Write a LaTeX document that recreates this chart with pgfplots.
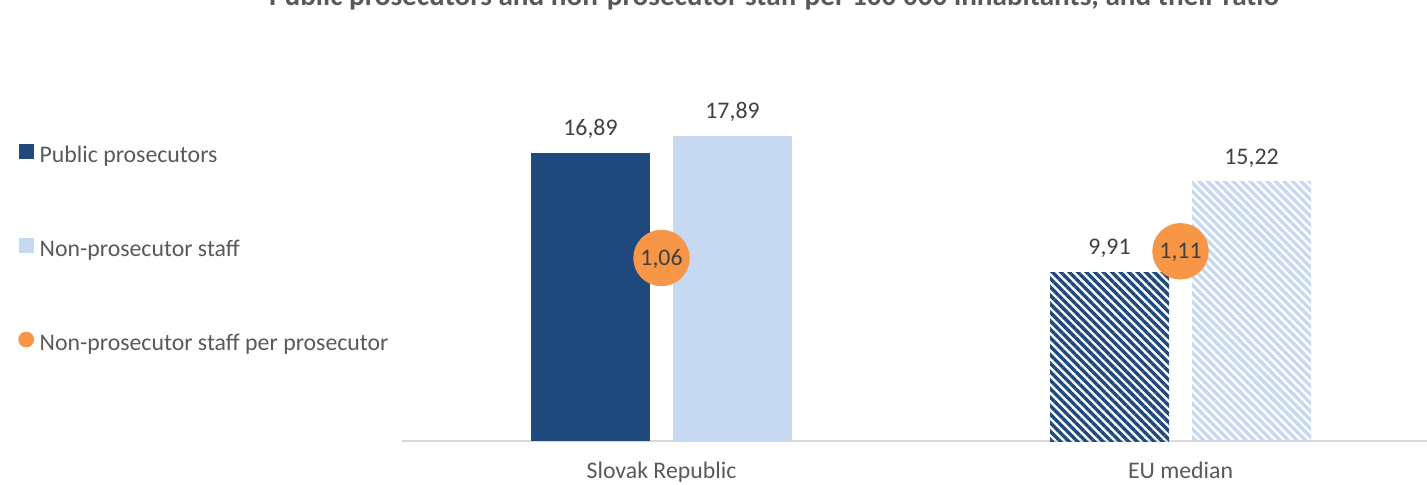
\documentclass[border=0pt]{standalone}
\usepackage{fontspec}
\setmainfont{Carlito}
\usepackage{pgfplots}
\pgfplotsset{compat=1.18}
\usetikzlibrary{patterns.meta}
\definecolor{darkblue}{HTML}{1F497D}
\definecolor{lightblue}{HTML}{C6D9F1}
\definecolor{ratio}{HTML}{F79646}
\definecolor{txt}{HTML}{595959}
\definecolor{lbl}{HTML}{404040}
\definecolor{axisline}{HTML}{D9D9D9}
\newcommand{\lblfont}{\fontsize{11.9}{14}\selectfont}

\begin{document}
\begin{tikzpicture}
\path[use as bounding box] (0,0) rectangle (713.5pt,242pt);
\node[anchor=base, font=\bfseries\fontsize{14.6}{17}\selectfont, text=txt, inner sep=0pt]
  at (387pt,239.5pt) {Public prosecutors and non-prosecutor staff per 100 000 inhabitants, and their ratio};

% bars
\begin{axis}[
  at={(201pt,21.5pt)}, anchor=south west,
  scale only axis, width=519pt, height=170.5pt,
  xmin=-0.5, xmax=1.5, ymin=0, ymax=20,
  axis line style={draw=none},
  clip=false,
  xtick={0,1}, xticklabels={Slovak Republic, EU median},
  ytick=\empty, major tick length=0pt,
  xticklabel style={font=\lblfont, text=txt, anchor=north, inner sep=0pt, yshift=-10.5pt},
  /pgf/number format/assume math mode=true,
  ybar, bar width=59.5pt,
  nodes near coords={\pgfmathprintnumber[fixed, fixed zerofill, precision=2, use comma]{\pgfplotspointmeta}},
  every node near coord/.append style={font=\lblfont, text=lbl, anchor=base, inner sep=0pt, yshift=8.75pt},
]
\draw[axisline, line width=1pt] (axis cs:-0.5,0) -- (axis cs:1.5,0);
\addplot[bar shift=-35.5pt, fill=darkblue, draw=none] coordinates {(0,16.89)};
\addplot[bar shift=35.5pt, fill=lightblue, draw=none] coordinates {(0,17.89)};
\addplot[bar shift=-35.5pt, draw=none, pattern={Lines[angle=-45, distance=3pt, line width=1.7pt]}, pattern color=darkblue] coordinates {(1,9.91)};
\addplot[bar shift=35.5pt, draw=none, pattern={Lines[angle=-45, distance=3pt, line width=1.7pt]}, pattern color=lightblue] coordinates {(1,15.22)};
\end{axis}

% ratio on secondary scale, plus legend
\begin{axis}[
  at={(201pt,21.5pt)}, anchor=south west,
  scale only axis, width=519pt, height=170.5pt,
  xmin=-0.5, xmax=1.5, ymin=-0.306, ymax=2.239,
  hide axis, clip=false,
  /pgf/number format/assume math mode=true,
  legend cell align=left,
  legend style={at={(-0.37,0.562)}, anchor=west, draw=none, fill=none,
    inner sep=0pt, row sep=35.75pt, column sep=2.75pt,
    font=\lblfont, text=txt,
    nodes={inner sep=0pt, text height=7pt, text depth=2pt}},
]
\addlegendimage{legend image code/.code={\fill[darkblue] (0pt,-0.4pt) rectangle (7pt,6.4pt);}}
\addlegendentry{Public prosecutors}
\addlegendimage{legend image code/.code={\fill[lightblue] (0pt,-0.4pt) rectangle (7pt,6.4pt);}}
\addlegendentry{Non-prosecutor staff}
\addplot[only marks, color=ratio, mark=*, mark size=13.9pt, mark options={draw=ratio, fill=ratio},
  legend image code/.code={\fill[ratio] (3.6pt,3pt) circle (3.75pt);},
  nodes near coords={\pgfmathprintnumber[fixed, fixed zerofill, precision=2, use comma]{\pgfplotspointmeta}},
  every node near coord/.append style={font=\lblfont, text=lbl, anchor=base, inner sep=0pt, yshift=-3.75pt}]
  coordinates {(0,1.06) (1,1.11)};
\addlegendentry{Non-prosecutor staff per prosecutor}
\end{axis}
\end{tikzpicture}
\end{document}
